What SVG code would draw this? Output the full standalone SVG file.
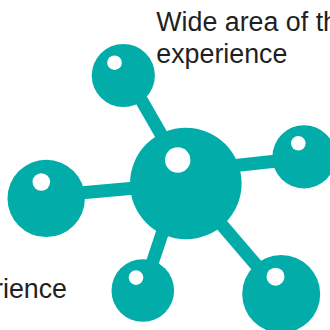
<svg xmlns="http://www.w3.org/2000/svg" width="330" height="330" viewBox="0 0 330 330">
  <style>
    .ball { fill: #02ADA9; }
    .hl { fill: #FFFFFF; }
    .stick { stroke: #02ADA9; stroke-width: 13; fill: none; stroke-linecap: butt; }
    .label { font-family: "Liberation Sans", Arial, Helvetica, sans-serif; font-size: 26.8px; fill: #231F20; }
  </style>
  <rect width="330" height="330" fill="#FFFFFF"/>
  <g id="connectors">
    <line class="stick" x1="127" y1="75" x2="189" y2="183"/>
    <line class="stick" x1="46" y1="196" x2="186" y2="183.5"/>
    <line class="stick" x1="186" y1="171" x2="304" y2="158"/>
    <line class="stick" x1="179" y1="183" x2="143" y2="290.5"/>
    <line class="stick" x1="186" y1="183" x2="281" y2="294"/>
  </g>
  <g id="node-center">
    <circle class="ball" cx="185.8" cy="183.5" r="55.8"/>
    <circle class="hl" cx="177.7" cy="160" r="12.7"/>
  </g>
  <g id="node-top-left">
    <circle class="ball" cx="123.3" cy="75.5" r="31.6"/>
    <circle class="hl" cx="114.5" cy="62.7" r="7.3"/>
  </g>
  <g id="node-right">
    <circle class="ball" cx="304" cy="156.8" r="31.6"/>
    <circle class="hl" cx="298.3" cy="143.3" r="7.3"/>
  </g>
  <g id="node-left">
    <circle class="ball" cx="46.2" cy="198.4" r="38.7"/>
    <circle class="hl" cx="41.3" cy="182" r="8.8"/>
  </g>
  <g id="node-bottom-left">
    <circle class="ball" cx="142.8" cy="290.5" r="31.3"/>
    <circle class="hl" cx="136" cy="277.6" r="7.3"/>
  </g>
  <g id="node-bottom-right">
    <circle class="ball" cx="281.2" cy="294" r="39"/>
    <circle class="hl" cx="275.5" cy="276.7" r="9"/>
  </g>
  <g id="label-top">
    <text class="label" x="156.3" y="31">Wide area of th</text>
    <text class="label" x="156.3" y="62.7">experience</text>
  </g>
  <g id="label-bottom">
    <text class="label" x="67" y="298" text-anchor="end">rience</text>
  </g>
</svg>
